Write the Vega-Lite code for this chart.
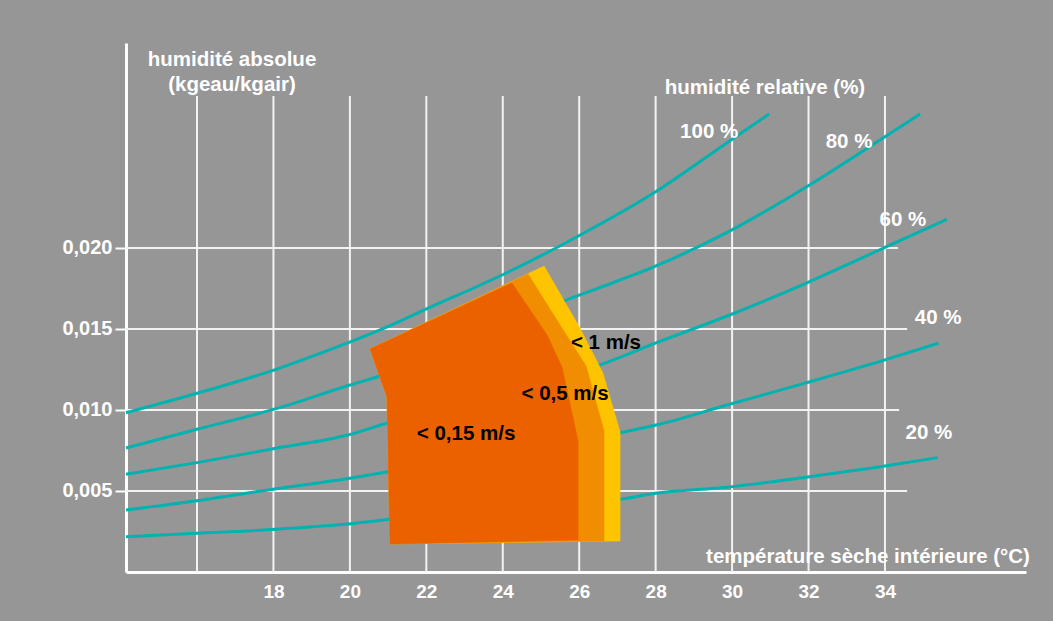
{
  "$schema": "https://vega.github.io/schema/vega-lite/v6.json",
  "width": 900,
  "height": 529,
  "autosize": {"type": "none"},
  "padding": {"left": 126, "top": 43, "right": 27, "bottom": 49},
  "background": "#969696",
  "config": {"view": {"stroke": null}, "font": "Liberation Sans"},
  "datasets": {
    "vgrid": [
      {"t": 16, "h": 0, "h2": 0.02938}, {"t": 18, "h": 0, "h2": 0.02938}, {"t": 20, "h": 0, "h2": 0.02938},
      {"t": 22, "h": 0, "h2": 0.02938}, {"t": 24, "h": 0, "h2": 0.02938}, {"t": 26, "h": 0, "h2": 0.02938},
      {"t": 28, "h": 0, "h2": 0.02938}, {"t": 30, "h": 0, "h2": 0.02938}, {"t": 32, "h": 0, "h2": 0.02938},
      {"t": 34, "h": 0, "h2": 0.02938}
    ],
    "hgrid": [
      {"h": 0.005, "t": 14.142, "t2": 34.58},
      {"h": 0.010, "t": 14.142, "t2": 34.37},
      {"h": 0.015, "t": 14.142, "t2": 34.58},
      {"h": 0.020, "t": 14.142, "t2": 34.34}
    ],
    "curves": [
      {"rh": 100, "t": 14.142, "h": 0.00983}, {"rh": 100, "t": 16.00, "h": 0.01103}, {"rh": 100, "t": 18.07, "h": 0.01251},
      {"rh": 100, "t": 19.92, "h": 0.01412}, {"rh": 100, "t": 20.79, "h": 0.01494}, {"rh": 100, "t": 21.99, "h": 0.01622},
      {"rh": 100, "t": 24.08, "h": 0.01844}, {"rh": 100, "t": 25.92, "h": 0.02066}, {"rh": 100, "t": 28.01, "h": 0.02348},
      {"rh": 100, "t": 29.87, "h": 0.02650}, {"rh": 100, "t": 30.97, "h": 0.02827},
      {"rh": 80, "t": 14.142, "h": 0.00765}, {"rh": 80, "t": 16.00, "h": 0.00881}, {"rh": 80, "t": 18.07, "h": 0.01008},
      {"rh": 80, "t": 19.92, "h": 0.01148}, {"rh": 80, "t": 20.87, "h": 0.01216}, {"rh": 80, "t": 21.99, "h": 0.01315},
      {"rh": 80, "t": 24.08, "h": 0.01512}, {"rh": 80, "t": 25.67, "h": 0.01679}, {"rh": 80, "t": 26.54, "h": 0.01755},
      {"rh": 80, "t": 28.01, "h": 0.01889}, {"rh": 80, "t": 29.87, "h": 0.02096},
      {"rh": 80, "t": 31.93, "h": 0.02375}, {"rh": 80, "t": 34.00, "h": 0.02687}, {"rh": 80, "t": 34.92, "h": 0.02827},
      {"rh": 60, "t": 14.142, "h": 0.00603}, {"rh": 60, "t": 16.00, "h": 0.00675}, {"rh": 60, "t": 18.07, "h": 0.00764},
      {"rh": 60, "t": 19.92, "h": 0.00844}, {"rh": 60, "t": 20.96, "h": 0.00918}, {"rh": 60, "t": 23.93, "h": 0.01093},
      {"rh": 60, "t": 26.54, "h": 0.01278}, {"rh": 60, "t": 28.01, "h": 0.01414}, {"rh": 60, "t": 29.87, "h": 0.01580},
      {"rh": 60, "t": 31.93, "h": 0.01782}, {"rh": 60, "t": 34.00, "h": 0.02003}, {"rh": 60, "t": 35.62, "h": 0.02177},
      {"rh": 40, "t": 14.142, "h": 0.00383}, {"rh": 40, "t": 16.00, "h": 0.00440}, {"rh": 40, "t": 18.07, "h": 0.00514},
      {"rh": 40, "t": 19.92, "h": 0.00576}, {"rh": 40, "t": 21.01, "h": 0.00619}, {"rh": 40, "t": 24.08, "h": 0.00722},
      {"rh": 40, "t": 27.07, "h": 0.00860}, {"rh": 40, "t": 28.01, "h": 0.00907}, {"rh": 40, "t": 29.87, "h": 0.01031},
      {"rh": 40, "t": 31.93, "h": 0.01167}, {"rh": 40, "t": 34.00, "h": 0.01309}, {"rh": 40, "t": 35.40, "h": 0.01412},
      {"rh": 20, "t": 14.142, "h": 0.00218}, {"rh": 20, "t": 16.00, "h": 0.00239}, {"rh": 20, "t": 18.07, "h": 0.00264},
      {"rh": 20, "t": 19.92, "h": 0.00296}, {"rh": 20, "t": 21.05, "h": 0.00325}, {"rh": 20, "t": 24.08, "h": 0.00388},
      {"rh": 20, "t": 27.07, "h": 0.00449}, {"rh": 20, "t": 28.01, "h": 0.00486}, {"rh": 20, "t": 29.87, "h": 0.00523},
      {"rh": 20, "t": 31.93, "h": 0.00585}, {"rh": 20, "t": 34.00, "h": 0.00654}, {"rh": 20, "t": 35.38, "h": 0.00706}
    ],
    "zones": [
      {"zone": "z1", "i": 1, "t": 20.53, "h": 0.01377}, {"zone": "z1", "i": 2, "t": 25.08, "h": 0.01889},
      {"zone": "z1", "i": 3, "t": 26.02, "h": 0.01506}, {"zone": "z1", "i": 4, "t": 26.62, "h": 0.01228},
      {"zone": "z1", "i": 5, "t": 27.07, "h": 0.00864}, {"zone": "z1", "i": 6, "t": 27.07, "h": 0.00191},
      {"zone": "z1", "i": 7, "t": 21.05, "h": 0.00173}, {"zone": "z1", "i": 8, "t": 20.97, "h": 0.01080},
      {"zone": "z05", "i": 1, "t": 20.53, "h": 0.01377}, {"zone": "z05", "i": 2, "t": 24.66, "h": 0.01840},
      {"zone": "z05", "i": 3, "t": 25.58, "h": 0.01494}, {"zone": "z05", "i": 4, "t": 26.18, "h": 0.01272},
      {"zone": "z05", "i": 5, "t": 26.65, "h": 0.00870}, {"zone": "z05", "i": 6, "t": 26.65, "h": 0.00191},
      {"zone": "z05", "i": 7, "t": 21.05, "h": 0.00173}, {"zone": "z05", "i": 8, "t": 20.97, "h": 0.01080},
      {"zone": "z015", "i": 1, "t": 20.53, "h": 0.01377}, {"zone": "z015", "i": 2, "t": 24.24, "h": 0.01784},
      {"zone": "z015", "i": 3, "t": 25.16, "h": 0.01463}, {"zone": "z015", "i": 4, "t": 25.55, "h": 0.01265},
      {"zone": "z015", "i": 5, "t": 25.97, "h": 0.00809}, {"zone": "z015", "i": 6, "t": 25.97, "h": 0.00198},
      {"zone": "z015", "i": 7, "t": 21.05, "h": 0.00173}, {"zone": "z015", "i": 8, "t": 20.97, "h": 0.01080}
    ],
    "whiteText": [
      {"label": "100 %", "t": 29.40, "h": 0.02716},
      {"label": "80 %", "t": 33.06, "h": 0.02654},
      {"label": "60 %", "t": 34.47, "h": 0.02173},
      {"label": "40 %", "t": 35.39, "h": 0.01568},
      {"label": "20 %", "t": 35.15, "h": 0.00858},
      {"label": "humidité relative (%)", "t": 30.86, "h": 0.02988},
      {"label": "humidité absolue", "t": 16.915, "h": 0.03160},
      {"label": "(kgeau/kgair)", "t": 16.915, "h": 0.03006},
      {"label": "température sèche intérieure (°C)", "t": 33.556, "h": 0.00093}
    ],
    "blackText": [
      {"label": "< 1 m/s", "t": 26.70, "h": 0.01414},
      {"label": "< 0,5 m/s", "t": 25.63, "h": 0.01101},
      {"label": "< 0,15 m/s", "t": 23.04, "h": 0.00850}
    ]
  },
  "encoding": {
    "x": {
      "field": "t", "type": "quantitative",
      "scale": {"domain": [14.142, 37.69], "nice": false, "zero": false},
      "axis": {
        "values": [18, 20, 22, 24, 26, 28, 30, 32, 34],
        "title": null, "grid": false, "ticks": false,
        "domainColor": "#ffffff", "domainWidth": 3,
        "labelColor": "#ffffff", "labelFont": "Liberation Sans", "labelFontWeight": "bold", "labelFontSize": 19,
        "labelPadding": 10
      }
    },
    "y": {
      "field": "h", "type": "quantitative",
      "scale": {"domain": [0, 0.03265], "nice": false, "zero": false},
      "axis": {
        "values": [0.005, 0.01, 0.015, 0.02],
        "labelExpr": "replace(format(datum.value, '.3f'), '.', ',')",
        "title": null, "grid": false,
        "ticks": true, "tickColor": "#ffffff", "tickSize": 11, "tickWidth": 2,
        "domainColor": "#ffffff", "domainWidth": 3,
        "labelColor": "#ffffff", "labelFont": "Liberation Sans", "labelFontWeight": "bold", "labelFontSize": 20,
        "labelPadding": 3
      }
    }
  },
  "layer": [
    {
      "data": {"name": "vgrid"},
      "mark": {"type": "rule", "color": "#f2f2f2", "strokeWidth": 2},
      "encoding": {"y2": {"field": "h2"}}
    },
    {
      "data": {"name": "hgrid"},
      "mark": {"type": "rule", "color": "#f2f2f2", "strokeWidth": 2},
      "encoding": {"x2": {"field": "t2"}}
    },
    {
      "data": {"name": "curves"},
      "mark": {"type": "line", "color": "#00b3b0", "strokeWidth": 3, "interpolate": "monotone"},
      "encoding": {"detail": {"field": "rh", "type": "nominal"}}
    },
    {
      "data": {"name": "zones"},
      "transform": [{"filter": "datum.zone === 'z1'"}],
      "mark": {"type": "line", "interpolate": "linear-closed", "fill": "#fec400", "stroke": "#fec400", "strokeWidth": 0.5},
      "encoding": {"order": {"field": "i", "type": "quantitative"}}
    },
    {
      "data": {"name": "zones"},
      "transform": [{"filter": "datum.zone === 'z05'"}],
      "mark": {"type": "line", "interpolate": "linear-closed", "fill": "#f18d00", "stroke": "#f18d00", "strokeWidth": 0.5},
      "encoding": {"order": {"field": "i", "type": "quantitative"}}
    },
    {
      "data": {"name": "zones"},
      "transform": [{"filter": "datum.zone === 'z015'"}],
      "mark": {"type": "line", "interpolate": "linear-closed", "fill": "#eb6100", "stroke": "#eb6100", "strokeWidth": 0.5},
      "encoding": {"order": {"field": "i", "type": "quantitative"}}
    },
    {
      "data": {"name": "whiteText"},
      "mark": {"type": "text", "color": "#ffffff", "font": "Liberation Sans", "fontWeight": "bold", "fontSize": 20.5, "align": "center", "baseline": "middle"},
      "encoding": {"text": {"field": "label"}}
    },
    {
      "data": {"name": "blackText"},
      "mark": {"type": "text", "color": "#000000", "font": "Liberation Sans", "fontWeight": "bold", "fontSize": 20.5, "align": "center", "baseline": "middle"},
      "encoding": {"text": {"field": "label"}}
    }
  ]
}
